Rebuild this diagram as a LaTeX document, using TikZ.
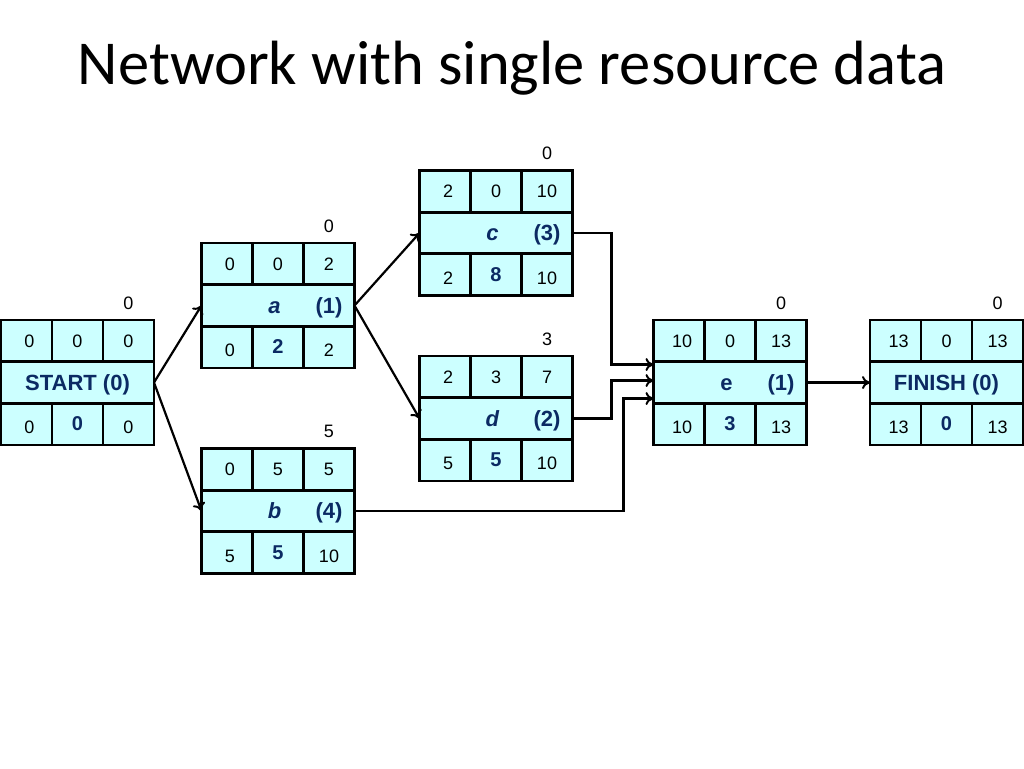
\documentclass[tikz,border=0pt]{standalone}
\usepackage{fontspec}
\setmainfont{Liberation Sans}
\newfontfamily\titlefont{Carlito}
\usetikzlibrary{arrows.meta}
\usetikzlibrary{calc}

\definecolor{boxfill}{HTML}{CCFFFF}
\definecolor{navy}{HTML}{0B2A63}

\newcommand{\numfont}{\fontsize{18}{21}\selectfont}
\newcommand{\labfont}{\bfseries\fontsize{22}{26}\selectfont}
% letter in the middle third, duration in the right third
\newcommand{\actlabel}[2]{\hspace*{51pt}\makebox[51pt]{\hspace*{-7pt}#1}\makebox[51pt]{#2}}

\tikzset{
	cell/.style={draw, line width=2.8pt, fill=boxfill, minimum width=51pt, minimum height=41.7pt,
		inner sep=0pt, outer sep=0pt, font=\numfont, text height=12.9pt, text depth=0pt},
	midrow/.style={cell, minimum width=153pt, font=\labfont, text=navy, text height=15.8pt},
	flt/.style={inner sep=0pt, font=\numfont, text height=12.9pt, text depth=0pt},
	conn/.style={-{To[length=8pt, width=13pt, line width=2pt]}, line width=2.2pt}
}

\begin{document}
\begin{tikzpicture}[x=1pt, y=-1pt]
	\useasboundingbox (0,0) rectangle (1024,768);

	% Title
	\node[anchor=base, inner sep=0pt, font=\titlefont\fontsize{62.5}{75}\selectfont] (title) at (512,84) {Network with single resource data};

	% Activity boxes
	\foreach \n/\x/\y/\tl/\tm/\tr/\lab/\bl/\bm/\br/\fl in {
		start/77.5/382.5/0/0/0/{START (0)}/0/0/0/0,
		a/278/305.5/0/0/2/{\actlabel{\textit{a}}{(1)}}/0/2/2/0,
		b/278/511/0/5/5/{\actlabel{\textit{b}}{(4)}}/5/5/10/5,
		c/496/233/2/0/10/{\actlabel{\textit{c}}{(3)}}/2/8/10/0,
		d/496/418.5/2/3/7/{\actlabel{\textit{d}}{(2)}}/5/5/10/3,
		e/730/382.5/10/0/13/{\actlabel{e}{(1)}}/10/3/13/0,
		finish/946.5/382.5/13/0/13/{FINISH (0)}/13/0/13/0}
	{
		\node[midrow] (\n) at (\x,\y) {\lab};
		% top row
		\node[cell, anchor=south west] (\n-tl) at (\n.north west) {\hspace*{6pt}\tl};
		\node[cell, anchor=south west] (\n-tm) at (\n-tl.south east) {\tm};
		\node[cell, anchor=south west] (\n-tr) at (\n-tm.south east) {\tr};
		% bottom row
		\node[cell, anchor=north west] (\n-bl) at (\n.south west) {\hspace*{6pt}\raisebox{-3pt}{\bl}};
		\node[cell, anchor=north west] (\n-bm) at (\n-bl.north east) {\textbf{\color{navy}\fontsize{20}{24}\selectfont\bm}};
		\node[cell, anchor=north west] (\n-br) at (\n-bm.north east) {\raisebox{-3pt}{\br}};
		% float
		\node[flt] (\n-flt) at ($(\n-tr.north)+(0,-17)$) {\fl};
	}

	% Entry points on e
	\coordinate (e-in1) at ($(e.west)+(0,-18)$);
	\coordinate (e-in2) at ($(e.west)+(0,-2)$);
	\coordinate (e-in3) at ($(e.west)+(0,16)$);

	% Connectors
	\draw[conn] (start.east) -- (a.west);
	\draw[conn] (start.east) -- (b.west);
	\draw[conn] (a.east) -- (c.west);
	\draw[conn] (a.east) -- (d.west);
	\draw[conn] (c.east) -- ++(39,0) |- (e-in1);
	\draw[conn] (d.east) -- ++(39,0) |- (e-in2);
	\draw[conn] (b.east) -- ++(269,0) |- (e-in3);
	\draw[conn] (e.east) -- (finish.west);
\end{tikzpicture}
\end{document}
